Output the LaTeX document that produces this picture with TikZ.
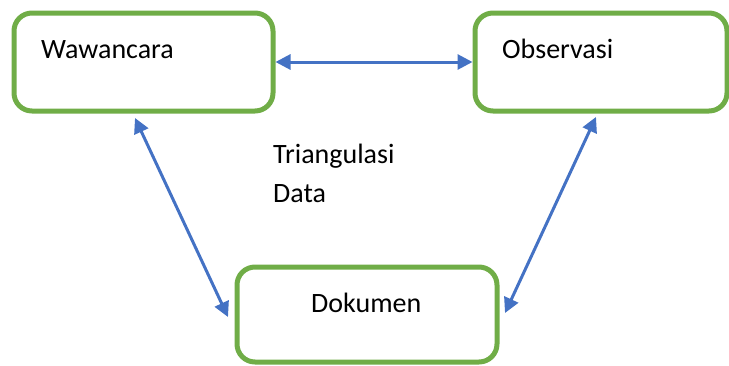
\documentclass[tikz,border=0pt]{standalone}
\usepackage{fontspec}
\setmainfont{Carlito}
\usetikzlibrary{arrows.meta}
\definecolor{boxgreen}{HTML}{70AD47}
\definecolor{linkblue}{HTML}{4472C4}
\tikzset{
  sourcebox/.style={draw=boxgreen, line width=5pt, rounded corners=18pt,
    rectangle, inner sep=0pt},
  label/.style={anchor=base west, inner sep=0pt, font=\fontsize{28}{34}\selectfont},
  link/.style={draw=linkblue, line width=3pt,
    {Triangle[length=15pt,width=15pt]}-{Triangle[length=15pt,width=15pt]}},
}
\begin{document}
\begin{tikzpicture}[x=1pt,y=-1pt]
  \useasboundingbox (0,0) rectangle (729,365);

  % the three data sources
  \node[sourcebox, minimum width=259pt, minimum height=98pt] (w) at (143.5,62) {};
  \node[sourcebox, minimum width=252pt, minimum height=98pt] (o) at (601,62) {};
  \node[sourcebox, minimum width=260pt, minimum height=95pt] (d) at (367,314.5) {};

  \node[label] (wt) at (41,58) {Wawancara};
  \node[label] (ot) at (502,58) {Observasi};
  \node[label] (dt) at (311,312) {Dokumen};
  \node[label] (t1) at (273,163) {Triangulasi};
  \node[label] (t2) at (273,202) {Data};

  % two-way links between the sources
  \draw[link] (w.east) -- (o.west);
  \draw[link] ([xshift=-8.5pt,yshift=-4.5pt]w.south) -- ([xshift=-6.5pt,yshift=-2.5pt]d.west);
  \draw[link] ([xshift=-5pt,yshift=-3.5pt]o.south) -- ([xshift=5.5pt,yshift=1.5pt]d.east);
\end{tikzpicture}
\end{document}
